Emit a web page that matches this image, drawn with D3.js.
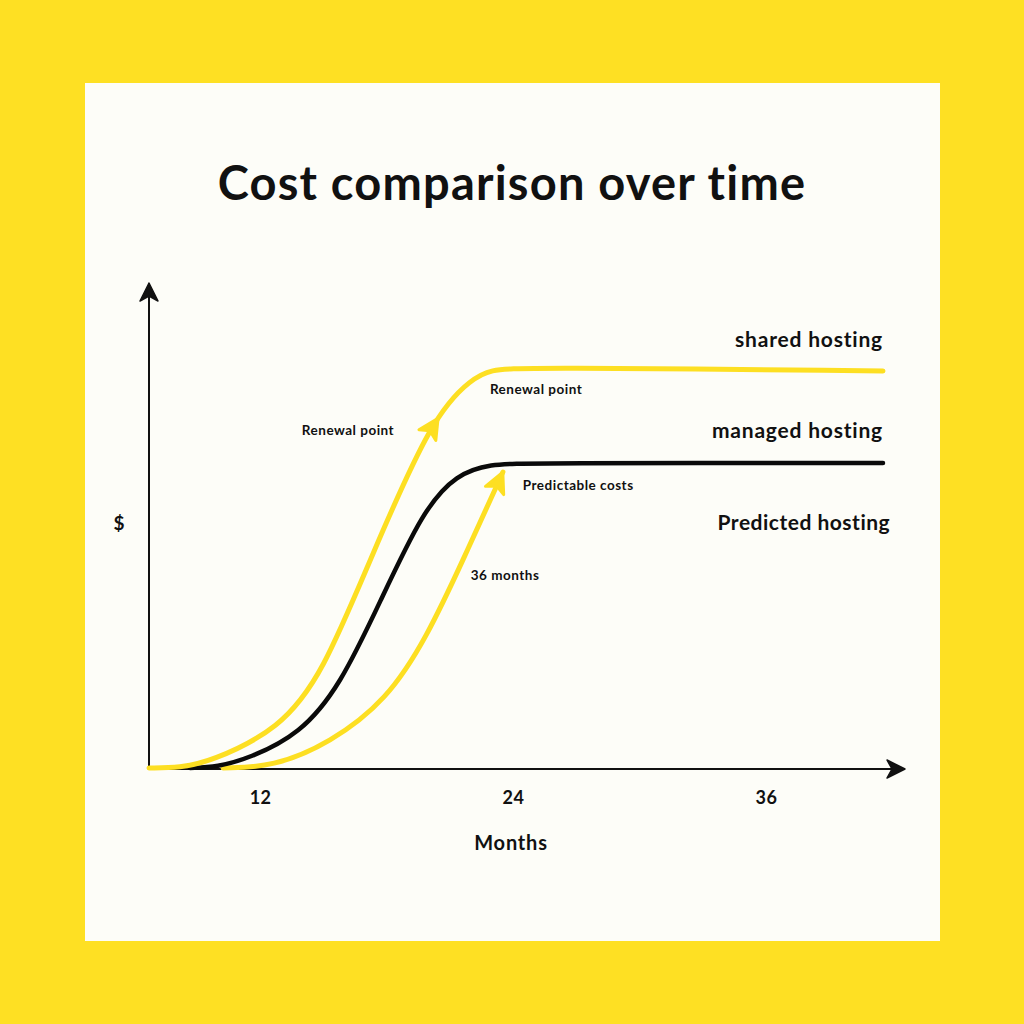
<!DOCTYPE html>
<html>
<head>
<meta charset="utf-8">
<script src="https://cdn.jsdelivr.net/npm/d3@7"></script>
<style>
  html, body { margin: 0; padding: 0; background: #FEE023; }
  svg { display: block; }
  text { font-family: Lato, "Open Sans", sans-serif; fill: #111; }
</style>
</head>
<body>
<svg id="chart" width="1024" height="1024"></svg>
<script>
// ---------------- Data ----------------
const title = "Cost comparison over time";
const xLabel = "Months";
const yLabel = "$";
const xTicks = [12, 24, 36];

// months / cost values (arbitrary $ units, 0-100)
const sharedMonths = [6.73, 8.20, 9.62, 12.94, 14.98, 17.21, 20.20, 22.10, 22.91, 24.47, 41.55];
const sharedCost   = [0,    0.10, 1.24, 8.04,  19.59, 42.89, 72.78, 80.41, 82.06, 82.68, 81.86];

const managedMonths = [8.68, 9.96, 11.52, 13.89, 15.79, 17.69, 19.73, 21.34, 22.91, 24.80, 41.55];
const managedCost   = [0,    0.21, 2.06,  7.01,  16.91, 34.23, 53.20, 60.62, 62.68, 62.89, 62.89];

const predictedMonths = [10.24, 12.61, 15.32, 18.02, 19.92, 21.63, 23.52];
const predictedCost   = [0,     0.21,  5.15,  14.02, 27.01, 42.89, 61.03];

const sharedArrowIndex = 6;   // "Renewal point" arrow sits on the shared curve

const seriesNames = ["shared hosting", "managed hosting", "Predicted hosting"];
const seriesLabelMonth = [41.55, 41.55, 41.89];
const seriesLabelCost  = [88.5, 69.7, 50.9];

const noteTexts  = ["Renewal point", "Renewal point", "Predictable costs", "36 months"];
const noteMonths = [16.17, 25.09, 27.09, 23.62];
const noteCost   = [69.7, 78.1, 58.4, 39.8];

// ---------------- Layout ----------------
const W = 1024, H = 1024;
const YELLOW = "#FEE023";
const LINE_YELLOW = "#FDDF22";
const svg = d3.select("#chart");

svg.append("rect").attr("width", W).attr("height", H).attr("fill", YELLOW);
svg.append("rect").attr("x", 85).attr("y", 83).attr("width", 855).attr("height", 858).attr("fill", "#FDFDF8");

const x = d3.scaleLinear().domain([6.73, 41.55]).range([149, 883]);
const y = d3.scaleLinear().domain([0, 100]).range([768, 283]);

// Title
svg.append("text")
  .attr("x", 512).attr("y", 182)
  .attr("text-anchor", "middle").attr("dominant-baseline", "central")
  .attr("font-size", 47).attr("font-weight", 700)
  .attr("letter-spacing", 1.2)
  .text(title);

// Axes lines with arrows
const g = svg.append("g");
const axisY0 = y(0) + 1;
g.append("line").attr("x1", x.range()[0]).attr("x2", 893).attr("y1", axisY0).attr("y2", axisY0)
  .attr("stroke", "#111").attr("stroke-width", 2);
g.append("line").attr("x1", x.range()[0]).attr("x2", x.range()[0]).attr("y1", axisY0).attr("y2", 296)
  .attr("stroke", "#111").attr("stroke-width", 2);

const headAxis = "M0,0 L-18,-9 L-13,0 L-18,9 Z";
g.append("path").attr("d", headAxis).attr("fill", "#111")
  .attr("stroke", "#111").attr("stroke-width", 1.5).attr("stroke-linejoin", "round")
  .attr("transform", `translate(905,${axisY0})`);
g.append("path").attr("d", headAxis).attr("fill", "#111")
  .attr("stroke", "#111").attr("stroke-width", 1.5).attr("stroke-linejoin", "round")
  .attr("transform", `translate(${x.range()[0]},283) rotate(-90)`);

// x axis ticks
const xAxis = d3.axisBottom(x).tickValues(xTicks).tickSize(0).tickPadding(0).tickFormat(d3.format("d"));
const ax = svg.append("g").attr("transform", `translate(0,${axisY0})`).call(xAxis);
ax.select(".domain").remove();
ax.selectAll("text")
  .attr("y", 28).attr("dy", null).attr("dominant-baseline", "central")
  .attr("font-size", 18).attr("font-weight", 700).attr("letter-spacing", 0.5)
  .style("font-family", "Lato, sans-serif").attr("fill", "#111");

svg.append("text").attr("x", 511).attr("y", 842)
  .attr("text-anchor", "middle").attr("dominant-baseline", "central")
  .attr("font-size", 20).attr("font-weight", 700).attr("letter-spacing", 0.8).text(xLabel);

svg.append("text").attr("x", 119).attr("y", 522)
  .attr("text-anchor", "middle").attr("dominant-baseline", "central")
  .attr("font-size", 19).attr("font-weight", 700).text(yLabel);

// Curves
const line = d3.line().x(d => x(d[0])).y(d => y(d[1])).curve(d3.curveBasis);
const zip = (a, b) => a.map((v, i) => [v, b[i]]);
const shared = zip(sharedMonths, sharedCost);
const managed = zip(managedMonths, managedCost);
const predicted = zip(predictedMonths, predictedCost);

const predPath = svg.append("path").attr("d", line(predicted)).attr("fill", "none")
  .attr("stroke", LINE_YELLOW).attr("stroke-width", 5).attr("stroke-linecap", "round");
svg.append("path").attr("d", line(managed)).attr("fill", "none")
  .attr("stroke", "#0a0a0a").attr("stroke-width", 4.5).attr("stroke-linecap", "round");
const sharedPath = svg.append("path").attr("d", line(shared)).attr("fill", "none")
  .attr("stroke", LINE_YELLOW).attr("stroke-width", 5).attr("stroke-linecap", "round");

// arrowheads on yellow curves: placed on the rendered path nearest the data point
const headCurve = "M0,0 L-20,-10 L-15,0 L-20,10 Z";
function arrowOnPath(pathSel, pt) {
  const node = pathSel.node();
  const L = node.getTotalLength();
  const tx = x(pt[0]), ty = y(pt[1]);
  let best = 0, bestD = Infinity;
  for (let s = 0; s <= L; s += 0.5) {
    const p = node.getPointAtLength(s);
    const d = (p.x - tx) ** 2 + (p.y - ty) ** 2;
    if (d < bestD) { bestD = d; best = s; }
  }
  const p = node.getPointAtLength(best);
  const q = node.getPointAtLength(Math.max(0, best - 6));
  const ang = Math.atan2(p.y - q.y, p.x - q.x) * 180 / Math.PI;
  svg.append("path").attr("d", headCurve).attr("fill", LINE_YELLOW)
    .attr("stroke", LINE_YELLOW).attr("stroke-width", 3).attr("stroke-linejoin", "round")
    .attr("transform", `translate(${p.x},${p.y}) rotate(${ang})`);
}
arrowOnPath(sharedPath, shared[sharedArrowIndex]);
arrowOnPath(predPath, predicted[predicted.length - 1]);

// series labels
seriesNames.forEach((n, i) => {
  svg.append("text").attr("x", x(seriesLabelMonth[i])).attr("y", y(seriesLabelCost[i]))
    .attr("text-anchor", "end").attr("dominant-baseline", "central")
    .attr("font-size", 21).attr("font-weight", 700).attr("letter-spacing", i === 2 ? 0.5 : 0.8).text(n);
});

// notes
noteTexts.forEach((t, i) => {
  svg.append("text").attr("x", x(noteMonths[i])).attr("y", y(noteCost[i]))
    .attr("text-anchor", "middle").attr("dominant-baseline", "central")
    .attr("font-size", 13.5).attr("font-weight", 700).attr("letter-spacing", 0.5).text(t);
});
</script>
</body>
</html>
